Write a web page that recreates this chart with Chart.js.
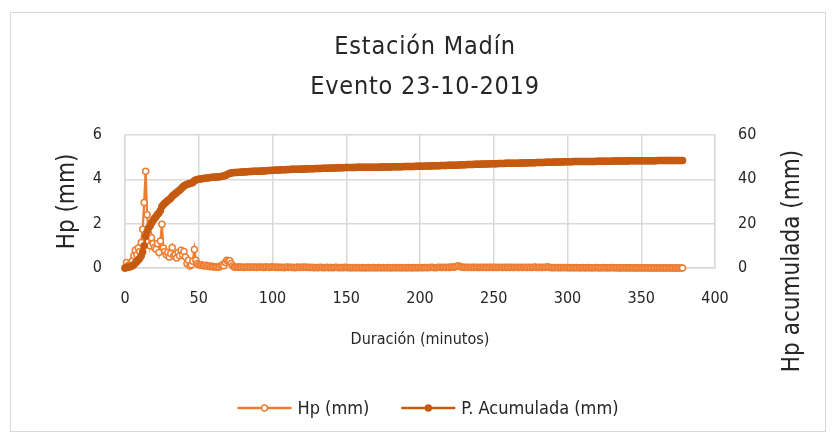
<!DOCTYPE html>
<html>
<head>
<meta charset="utf-8">
<script src="https://cdn.jsdelivr.net/npm/chart.js@4"></script>
<style>
  html, body { margin: 0; padding: 0; background: #fff; }
  canvas { display: block; }
</style>
</head>
<body>
<canvas id="madin" width="835" height="439"></canvas>
<script>
// Estación Madín - evento 23-10-2019, datos minuto a minuto
const titulo = ['Estación Madín', 'Evento 23-10-2019'];
const tituloX = 'Duración (minutos)';
const tituloY = 'Hp (mm)';
const tituloY2 = 'Hp acumulada (mm)';
const etiquetas = ['Hp (mm)', 'P. Acumulada (mm)'];

const minutos = [
  0,1,2,3,4,5,6,7,8,9,10,11,12,13,14,15,16,17,18,19,
  20,21,22,23,24,25,26,27,28,29,30,31,32,33,34,35,36,37,38,39,
  40,41,42,43,44,45,46,47,48,49,50,51,52,53,54,55,56,57,58,59,
  60,61,62,63,64,65,66,67,68,69,70,71,72,73,74,75,76,77,78,79,
  80,81,82,83,84,85,86,87,88,89,90,91,92,93,94,95,96,97,98,99,
  100,101,102,103,104,105,106,107,108,109,110,111,112,113,114,115,116,117,118,119,
  120,121,122,123,124,125,126,127,128,129,130,131,132,133,134,135,136,137,138,139,
  140,141,142,143,144,145,146,147,148,149,150,151,152,153,154,155,156,157,158,159,
  160,161,162,163,164,165,166,167,168,169,170,171,172,173,174,175,176,177,178,179,
  180,181,182,183,184,185,186,187,188,189,190,191,192,193,194,195,196,197,198,199,
  200,201,202,203,204,205,206,207,208,209,210,211,212,213,214,215,216,217,218,219,
  220,221,222,223,224,225,226,227,228,229,230,231,232,233,234,235,236,237,238,239,
  240,241,242,243,244,245,246,247,248,249,250,251,252,253,254,255,256,257,258,259,
  260,261,262,263,264,265,266,267,268,269,270,271,272,273,274,275,276,277,278,279,
  280,281,282,283,284,285,286,287,288,289,290,291,292,293,294,295,296,297,298,299,
  300,301,302,303,304,305,306,307,308,309,310,311,312,313,314,315,316,317,318,319,
  320,321,322,323,324,325,326,327,328,329,330,331,332,333,334,335,336,337,338,339,
  340,341,342,343,344,345,346,347,348,349,350,351,352,353,354,355,356,357,358,359,
  360,361,362,363,364,365,366,367,368,369,370,371,372,373,374,375,376,377,378
];

const hp = [
  // 0-75
  0,0.25,0.1,0.15,0.2,0.3,0.55,0.8,0.6,0.9,
  0.75,1.15,1.75,2.95,4.37,2.4,1.55,1.0,1.37,1.1,
  0.93,0.85,1.1,0.7,1.22,1.97,0.9,0.75,0.6,0.7,
  0.5,0.65,0.93,0.55,0.6,0.45,0.7,0.55,0.8,0.6,
  0.75,0.5,0.2,0.35,0.09,0.15,0.3,0.84,0.35,0.2,
  0.15,0.12,0.15,0.1,0.1,0.12,0.08,0.1,0.06,0.08,
  0.05,0.06,0.05,0.04,0.05,0.1,0.15,0.1,0.25,0.35,
  0.3,0.33,0.2,0.1,0.05,0.03,
  // 76-100
  0.04,0.05,0.03,0.04,0.03,0.02,0.05,0.03,0.04,0.03,
  0.04,0.03,0.05,0.02,0.04,0.03,0.05,0.03,0.02,0.04,0.05,0.03,0.02,0.04,0.06,
  // 101-150
  0.03,0.02,0.04,0.02,0.03,0.02,0.03,0.01,0.03,0.04,0.02,0.03,0.02,0.03,0.01,0.02,0.04,0.02,0.03,0.02,0.05,0.03,0.02,0.03,0.02,
  0.02,0.03,0.01,0.02,0.02,0.01,0.03,0.02,0.02,0.01,0.02,0.03,0.01,0.02,0.02,0.01,0.02,0.03,0.02,0.01,0.02,0.02,0.01,0.03,0.02,
  // 151-200
  0.01,0.02,0.01,0.01,0.02,0.01,0.01,0.02,0.01,0.01,0.02,0.01,0.01,0.01,0.02,0.01,0.01,0.02,0.01,0.01,0.01,0.02,0.01,0.01,0.02,
  0.01,0.01,0.02,0.01,0.01,0.01,0.02,0.01,0.01,0.02,0.01,0.01,0.01,0.02,0.01,0.01,0.02,0.01,0.01,0.01,0.02,0.01,0.01,0.02,0.01,
  // 201-250
  0.02,0.01,0.02,0.02,0.01,0.02,0.02,0.03,0.02,0.01,0.02,0.02,0.03,0.02,0.02,0.03,0.02,0.02,0.03,0.02,0.04,0.03,0.05,0.06,0.08,
  0.1,0.07,0.04,0.03,0.02,0.03,0.02,0.03,0.02,0.02,0.03,0.02,0.03,0.02,0.02,0.03,0.02,0.03,0.02,0.02,0.03,0.02,0.03,0.02,0.02,
  // 251-300
  0.03,0.02,0.02,0.03,0.02,0.02,0.03,0.02,0.02,0.03,0.02,0.03,0.02,0.02,0.03,0.02,0.02,0.03,0.02,0.02,0.03,0.02,0.02,0.03,0.02,
  0.02,0.03,0.04,0.02,0.02,0.03,0.02,0.02,0.03,0.02,0.05,0.04,0.02,0.01,0.02,0.01,0.02,0.02,0.01,0.02,0.01,0.02,0.02,0.01,0.02,
  // 301-350
  0.01,0.01,0.02,0.01,0.01,0.02,0.01,0.01,0.01,0.02,0.01,0.01,0.01,0.02,0.01,0.01,0.01,0.01,0.02,0.01,0.01,0.01,0.01,0.02,0.01,
  0.01,0.01,0.01,0.01,0.02,0.01,0.01,0.01,0.01,0,0.01,0.01,0.01,0,0.01,0.01,0,0.01,0.01,0,0.01,0,0.01,0.01,0,
  // 351-378
  0.01,0,0,0.01,0,0,0,0.01,0,0,0,0,0.01,0,0,0,0,0,0.01,0,0,0,0,0,0,0,0,0
];

const acumulada = [
  // 0-50
  0,0.2,0.3,0.5,0.7,1.0,1.5,2.2,2.8,3.6,
  4.4,5.5,7.2,10.0,14.2,16.5,18.0,19.0,20.3,21.4,
  22.3,23.1,24.1,24.8,25.9,27.7,28.5,29.2,29.8,30.4,
  30.9,31.5,32.4,32.9,33.5,33.9,34.6,35.1,35.8,36.4,
  37.0,37.5,37.7,38.0,38.1,38.3,38.6,39.4,39.7,39.9,40.0,
  // 51-75
  40.1,40.25,40.35,40.45,40.55,40.65,40.75,40.8,40.9,40.95,
  41.0,41.05,41.1,41.15,41.25,41.4,41.5,41.75,42.1,42.4,
  42.7,42.9,43.0,43.05,43.1,
  // 76-100
  43.1,43.2,43.2,43.3,43.3,43.3,43.4,43.4,43.5,43.5,
  43.5,43.6,43.6,43.7,43.7,43.7,43.8,43.8,43.8,43.9,43.9,44.0,44.0,44.0,44.1,
  // 101-150
  44.1,44.1,44.2,44.2,44.2,44.3,44.3,44.3,44.3,44.4,44.4,44.4,44.5,44.5,44.5,44.5,44.6,44.6,44.6,44.7,44.7,44.7,44.7,44.8,44.8,
  44.8,44.8,44.8,44.9,44.9,44.9,44.9,44.9,45.0,45.0,45.0,45.0,45.0,45.1,45.1,45.1,45.1,45.1,45.2,45.2,45.2,45.2,45.2,45.3,45.3,
  // 151-200
  45.3,45.3,45.3,45.3,45.3,45.3,45.4,45.4,45.4,45.4,45.4,45.4,45.4,45.4,45.5,45.5,45.5,45.5,45.5,45.5,45.5,45.5,45.6,45.6,45.6,
  45.6,45.6,45.6,45.6,45.6,45.7,45.7,45.7,45.7,45.7,45.7,45.7,45.7,45.8,45.8,45.8,45.8,45.8,45.8,45.8,45.8,45.9,45.9,45.9,45.9,
  // 201-250
  45.9,45.9,45.9,46.0,46.0,46.0,46.0,46.0,46.1,46.1,46.1,46.1,46.1,46.2,46.2,46.2,46.2,46.2,46.3,46.3,46.3,46.3,46.3,46.4,46.4,
  46.5,46.5,46.6,46.6,46.6,46.6,46.7,46.7,46.7,46.7,46.7,46.8,46.8,46.8,46.8,46.8,46.9,46.9,46.9,46.9,46.9,47.0,47.0,47.0,47.0,
  // 251-300
  47.0,47.0,47.1,47.1,47.1,47.1,47.1,47.2,47.2,47.2,47.2,47.2,47.3,47.3,47.3,47.3,47.3,47.4,47.4,47.4,47.4,47.4,47.5,47.5,47.5,
  47.5,47.5,47.5,47.6,47.6,47.6,47.6,47.6,47.6,47.7,47.7,47.7,47.7,47.7,47.7,47.8,47.8,47.8,47.8,47.8,47.8,47.9,47.9,47.9,47.9,
  // 301-350
  47.9,47.9,47.9,48.0,48.0,48.0,48.0,48.0,48.0,48.0,48.0,48.1,48.1,48.1,48.1,48.1,48.1,48.1,48.1,48.2,48.2,48.2,48.2,48.2,48.2,
  48.2,48.2,48.2,48.2,48.2,48.3,48.3,48.3,48.3,48.3,48.3,48.3,48.3,48.3,48.3,48.3,48.4,48.4,48.4,48.4,48.4,48.4,48.4,48.4,48.4,
  // 351-378
  48.4,48.4,48.4,48.4,48.4,48.4,48.4,48.4,48.4,48.4,
  48.5,48.5,48.5,48.5,48.5,48.5,48.5,48.5,48.5,48.5,48.5,48.5,48.5,48.5,48.5,48.5,48.5,48.5
];

const FONT = '"DejaVu Sans Condensed", "DejaVu Sans", sans-serif';
const TEXTO = '#262626';
const GRID = '#d9d9d9';
const NARANJA = '#ED7D31';
const NARANJA_OSC = '#C55A11';

Chart.defaults.font.family = FONT;
Chart.defaults.color = TEXTO;

// marco, titulo, titulo del eje derecho y leyenda dibujados a mano
const adornos = {
  id: 'adornos',
  beforeDraw(chart) {
    const ctx = chart.ctx;
    ctx.save();
    ctx.fillStyle = '#fff';
    ctx.fillRect(0, 0, chart.width, chart.height);
    ctx.strokeStyle = GRID;
    ctx.lineWidth = 1;
    ctx.strokeRect(10.5, 12.5, 815, 419);
    ctx.restore();
  },
  afterDraw(chart) {
    const ctx = chart.ctx;
    ctx.save();
    ctx.fillStyle = TEXTO;
    ctx.textAlign = 'center';
    ctx.textBaseline = 'middle';
    ctx.font = `25px ${FONT}`;
    if ('letterSpacing' in ctx) ctx.letterSpacing = '0.8px';
    ctx.fillText(titulo[0], 425, 47);
    ctx.fillText(titulo[1], 425, 87);
    if ('letterSpacing' in ctx) ctx.letterSpacing = '0px';

    ctx.translate(793, 261);
    ctx.rotate(-Math.PI / 2);
    ctx.font = `24px ${FONT}`;
    ctx.fillText(tituloY2, 0, 0);
    ctx.restore();

    // leyenda
    ctx.save();
    ctx.font = `18px ${FONT}`;
    const items = chart.data.datasets.map(ds => ({ ds, w: 60 + ctx.measureText(ds.label).width }));
    const gap = 32;
    const total = items.reduce((s, it) => s + it.w, 0) + gap * (items.length - 1);
    let x = 428 - total / 2;
    const y = 408;
    items.forEach(({ ds, w }) => {
      ctx.strokeStyle = ds.borderColor;
      ctx.lineWidth = 2.5;
      ctx.beginPath();
      ctx.moveTo(x, y);
      ctx.lineTo(x + 54, y);
      ctx.stroke();
      ctx.beginPath();
      ctx.arc(x + 27, y, 3, 0, Math.PI * 2);
      ctx.fillStyle = ds.pointBackgroundColor;
      ctx.fill();
      ctx.lineWidth = 1.5;
      ctx.stroke();
      ctx.fillStyle = TEXTO;
      ctx.textAlign = 'left';
      ctx.textBaseline = 'middle';
      ctx.fillText(ds.label, x + 60, y + 1);
      x += w + gap;
    });
    ctx.restore();
  }
};

new Chart(document.getElementById('madin'), {
  type: 'line',
  data: {
    datasets: [{
      label: etiquetas[0],
      data: minutos.map((m, i) => ({ x: m, y: hp[i] })),
      yAxisID: 'y',
      borderColor: NARANJA,
      borderWidth: 2.25,
      pointRadius: 3,
      pointBorderWidth: 1.5,
      pointBackgroundColor: '#fff',
      pointBorderColor: NARANJA,
      tension: 0,
      clip: false,
      order: 1
    }, {
      label: etiquetas[1],
      data: minutos.map((m, i) => ({ x: m, y: acumulada[i] })),
      yAxisID: 'y1',
      borderColor: NARANJA_OSC,
      borderWidth: 2.25,
      pointRadius: 3,
      pointBorderWidth: 1.5,
      pointBackgroundColor: NARANJA_OSC,
      pointBorderColor: NARANJA_OSC,
      tension: 0,
      clip: false,
      order: 0
    }]
  },
  options: {
    responsive: false,
    animation: false,
    events: [],
    layout: { padding: { top: 135, left: 10, right: 9, bottom: 71 } },
    plugins: {
      legend: { display: false },
      tooltip: { enabled: false }
    },
    scales: {
      x: {
        type: 'linear',
        min: 0,
        max: 400,
        ticks: { stepSize: 50, padding: 21, font: { size: 16 }, color: TEXTO },
        grid: { color: GRID, lineWidth: 1.5, drawTicks: false },
        border: { color: GRID, width: 1.5 },
        title: { display: true, text: tituloX, font: { size: 16 }, color: TEXTO, padding: { top: 0, bottom: 19 } },
        afterFit(scale) { scale.height = 100; }
      },
      y: {
        position: 'left',
        min: 0,
        max: 6,
        ticks: { stepSize: 2, padding: 23, font: { size: 16 }, color: TEXTO },
        grid: { color: GRID, lineWidth: 1.5, drawTicks: false },
        border: { color: GRID, width: 1.5 },
        title: { display: true, text: tituloY, font: { size: 24 }, color: TEXTO, padding: { top: 43, bottom: 0 } },
        afterFit(scale) { scale.width = 115; }
      },
      y1: {
        position: 'right',
        min: 0,
        max: 60,
        ticks: { stepSize: 20, padding: 23, font: { size: 16 }, color: TEXTO },
        grid: { display: false, drawTicks: false },
        border: { color: GRID, width: 1.5 },
        afterFit(scale) { scale.width = 111; }
      }
    }
  },
  plugins: [adornos]
});
</script>
</body>
</html>
